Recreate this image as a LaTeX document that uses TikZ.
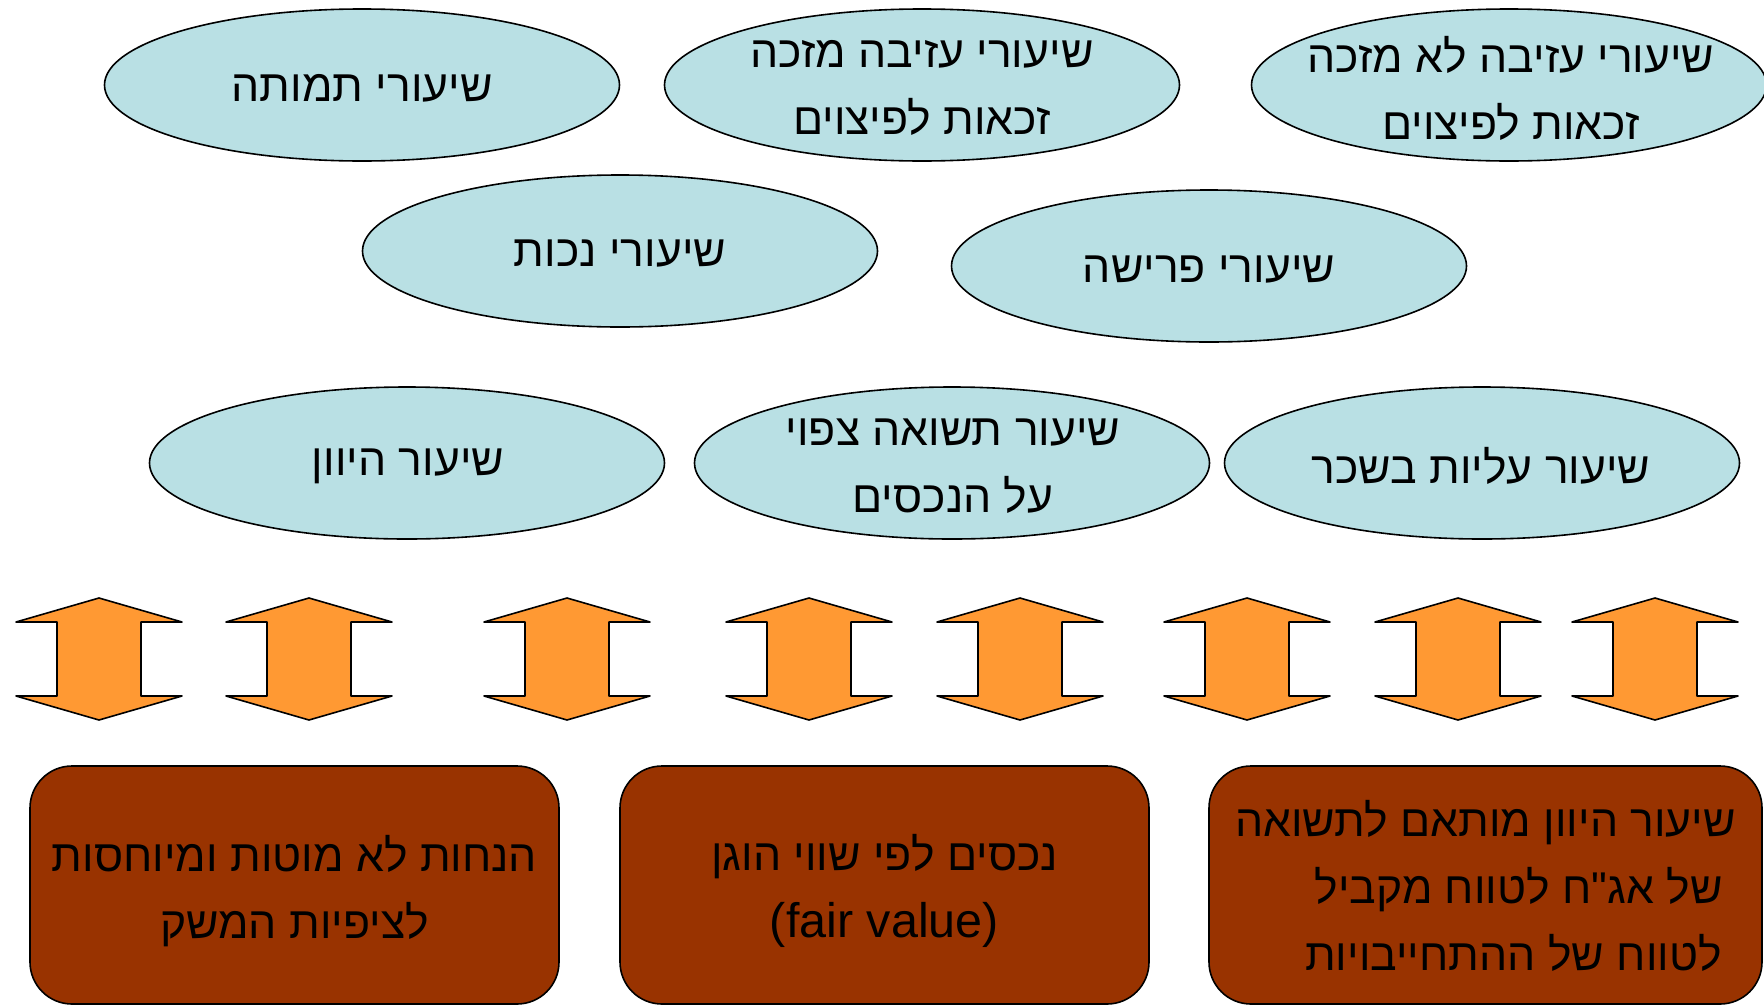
\documentclass[tikz,border=0pt]{standalone}
\usepackage{fontspec}
\setmainfont{Liberation Sans}
\newfontfamily\hebfont[Script=Hebrew]{Liberation Sans}
\TeXXeTstate=1
\usetikzlibrary{shapes.geometric}
\definecolor{ellfill}{RGB}{185,224,228}
\definecolor{arrfill}{RGB}{255,153,51}
\definecolor{boxfill}{RGB}{153,51,0}
\newcommand{\heb}[1]{\beginR #1\endR}
\newcommand{\latn}[1]{{\fontsize{48.5}{68}\selectfont #1}}
\begin{document}
\begin{tikzpicture}[x=1pt,y=-1pt,
  ell/.style={ellipse, draw=black, line width=1.6pt, fill=ellfill, minimum width=515pt, minimum height=152pt, inner sep=0pt},
  lbl/.style={font=\hebfont\fontsize{44.5}{67}\selectfont, align=center, inner sep=0pt},
  brbox/.style={draw=black, line width=1.6pt, fill=boxfill, rounded corners=42pt, minimum width=529pt, minimum height=238pt, inner sep=0pt},
  arr/.style={draw=black, line width=1.6pt, fill=arrfill, line join=round}]
\useasboundingbox (0,0) rectangle (1764,1004);
\fill[white] (0,0) rectangle (1764,1004);

% ellipses
\node[ell] (e1) at (362,85) {};
\node[ell] (e2) at (922,85) {};
\node[ell] (e3) at (1509,85) {};
\node[ell] (e4) at (620,251) {};
\node[ell] (e5) at (1209,266) {};
\node[ell] (e6) at (407,463) {};
\node[ell] (e7) at (952,463) {};
\node[ell] (e8) at (1482,463) {};

\node[lbl] (t1) at (362,88) {\heb{שיעורי תמותה}};
\node[lbl] (t2) at (922,88) {\heb{שיעורי עזיבה מזכה}\\\heb{זכאות לפיצוים}};
\node[lbl] (t3) at (1511,88) {\heb{שיעורי עזיבה לא מזכה}\\\heb{זכאות לפיצוים}};
\node[lbl] (t4) at (620,254) {\heb{שיעורי נכות}};
\node[lbl] (t5) at (1209,270) {\heb{שיעורי פרישה}};
\node[lbl] (t6) at (408,466) {\heb{שיעור היוון}};
\node[lbl] (t7) at (953,466) {\heb{שיעור תשואה צפוי}\\\heb{על הנכסים}};
\node[lbl] (t8) at (1481,466) {\heb{שיעור עליות בשכר}};

% double arrows
\foreach \cx in {99,309,567,809,1020,1247,1458,1655}{
  \draw[arr] (\cx,598) -- (\cx+83,622) -- (\cx+42,622) -- (\cx+42,696) -- (\cx+83,696)
    -- (\cx,720) -- (\cx-83,696) -- (\cx-42,696) -- (\cx-42,622) -- (\cx-83,622) -- cycle;
}

% bottom boxes
\node[brbox] (b1) at (294.5,885) {};
\node[brbox] (b2) at (884.5,885) {};
\node[brbox, minimum width=553pt] (b3) at (1485.5,885) {};
\node[lbl] (bt1) at (294.5,891) {\heb{הנחות לא מוטות ומיוחסות}\\\heb{לציפיות המשק}};
\node[lbl] (bt2) at (884.5,891) {\heb{נכסים לפי שווי הוגן}\\\latn{(fair value)}};
\node[lbl] (bt3) at (1485.5,886) {\heb{שיעור היוון מותאם לתשואה}\\\hspace*{66pt}\heb{של אג"ח לטווח מקביל}\\\hspace*{56pt}\heb{לטווח של ההתחייבויות}};
\end{tikzpicture}
\end{document}
